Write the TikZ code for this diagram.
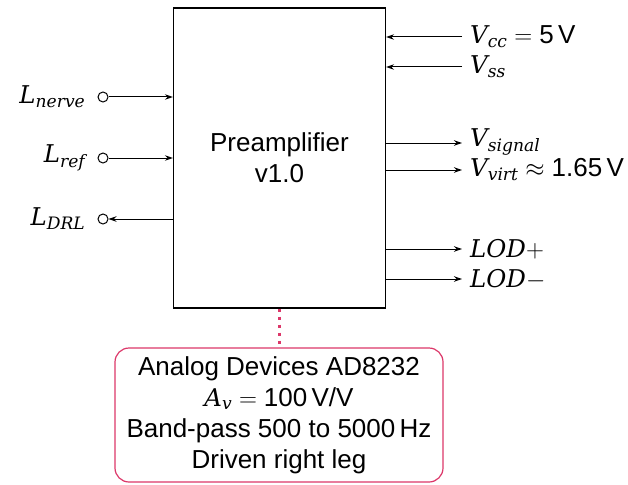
\documentclass[tikz,border=0pt]{standalone}
\usepackage{amsmath}
\usepackage{fontspec}
\setmainfont{Liberation Sans}
\newfontfamily\mivar{DejaVu Serif}[Scale=0.94]
\newcommand\vv[1]{\text{\mivar\itshape #1}}
\usetikzlibrary{arrows.meta}
\definecolor{accent}{RGB}{220,55,105}
\begin{document}
\begin{tikzpicture}[x=1pt,y=-1pt,
  every node/.style={font=\fontsize{26}{31}\selectfont},
  conn/.style={line width=1pt, -{Stealth[length=8pt,width=5.5pt]}},
  term/.style={draw, circle, minimum size=10pt, inner sep=0pt, line width=1pt},
  lab/.style={inner sep=0pt}]
\useasboundingbox (0,0) rectangle (628,484);
\node[draw, line width=1.2pt, minimum width=212pt, minimum height=300pt, align=center, inner sep=0pt] (box) at (279.5,158) {Preamplifier\\v1.0};
% left terminals
\node[term] (tn) at (103,97) {};
\node[term] (tr) at (103,158) {};
\node[term] (td) at (103,219) {};
\node[lab, anchor=east] (ln) at ([xshift=-12pt]tn.west) {$\vv{L}_{\vv{nerve}}$};
\node[lab, anchor=east] (lr) at ([xshift=-12pt]tr.west) {$\vv{L}_{\vv{ref}}$};
\node[lab, anchor=east] (ld) at ([xshift=-12pt]td.west) {$\vv{L}_{\vv{DRL}}$};
\draw[conn] (tn) -- (tn -| box.west);
\draw[conn] (tr) -- (tr -| box.west);
\draw[conn] (td -| box.west) -- (td);
% right side
\coordinate (vcc) at (462,37);
\coordinate (vss) at (462,67);
\coordinate (vsig) at (462,143);
\coordinate (vvirt) at (462,170);
\coordinate (lodp) at (462,249);
\coordinate (lodm) at (462,279);
\node[lab, anchor=west] (lvcc) at ([xshift=8pt]vcc) {$\vv{V}_{\vv{cc}} = \text{5\,V}$};
\node[lab, anchor=west] (lvss) at ([xshift=8pt]vss) {$\vv{V}_{\vv{ss}}$};
\node[lab, anchor=west] (lvsig) at ([xshift=8pt,yshift=3pt]vsig) {$\vv{V}_{\smash[b]{\vv{signal}}}$};
\node[lab, anchor=west] (lvvirt) at ([xshift=8pt]vvirt) {$\vv{V}_{\vv{virt}} \approx \text{1.65\,V}$};
\node[lab, anchor=west] (llodp) at ([xshift=8pt]lodp) {$\vv{LOD}{+}$};
\node[lab, anchor=west] (llodm) at ([xshift=8pt]lodm) {$\vv{LOD}{-}$};
\draw[conn] (vcc) -- (vcc -| box.east);
\draw[conn] (vss) -- (vss -| box.east);
\draw[conn] (vsig -| box.east) -- (vsig);
\draw[conn] (vvirt -| box.east) -- (vvirt);
\draw[conn] (lodp -| box.east) -- (lodp);
\draw[conn] (lodm -| box.east) -- (lodm);
% info box
\node[draw=accent, line width=1.2pt, rounded corners=14pt, minimum width=328pt, minimum height=134pt, align=center, inner sep=0pt] (info) at (279,415) {Analog Devices AD8232\\$\vv{A}_{\vv{v}} = \text{100\,V/V}$\\Band-pass 500 to 5000\,Hz\\Driven right leg};
\draw[accent, line width=3pt, dash pattern=on 3pt off 5pt] (box.south) -- (box.south |- info.north);
\end{tikzpicture}
\end{document}
